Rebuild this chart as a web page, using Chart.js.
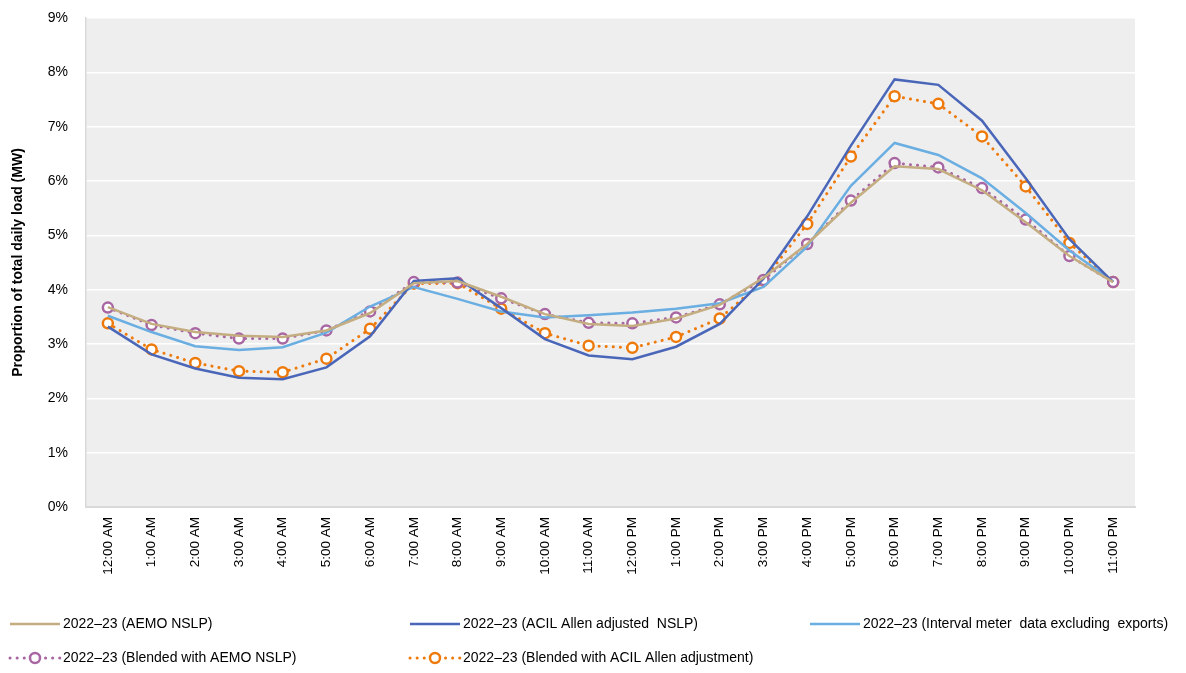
<!DOCTYPE html>
<html>
<head>
<meta charset="utf-8">
<script src="https://cdn.jsdelivr.net/npm/chart.js@4.4.1/dist/chart.umd.min.js"></script>
<style>
  html, body { margin: 0; padding: 0; background: #fff; }
  #wrap { position: relative; width: 1186px; height: 673px; }
</style>
</head>
<body>
<div id="wrap"><canvas id="loadChart" width="1186" height="673"></canvas></div>
<script>
const hours = ['12:00 AM', '1:00 AM', '2:00 AM', '3:00 AM', '4:00 AM', '5:00 AM', '6:00 AM', '7:00 AM',
    '8:00 AM', '9:00 AM', '10:00 AM', '11:00 AM', '12:00 PM', '1:00 PM', '2:00 PM', '3:00 PM',
    '4:00 PM', '5:00 PM', '6:00 PM', '7:00 PM', '8:00 PM', '9:00 PM', '10:00 PM', '11:00 PM'];

// proportion of total daily load, in %
const aemoNslp = [3.68, 3.37, 3.22, 3.15, 3.13, 3.25, 3.57, 4.12, 4.16, 3.87, 3.55, 3.37,
    3.33, 3.47, 3.72, 4.22, 4.84, 5.60, 6.27, 6.22, 5.83, 5.24, 4.62, 4.14];
const acilAdjusted = [3.32, 2.81, 2.55, 2.38, 2.35, 2.57, 3.14, 4.16, 4.21, 3.66, 3.09, 2.79,
    2.72, 2.95, 3.37, 4.20, 5.35, 6.65, 7.87, 7.77, 7.11, 6.05, 4.93, 4.14];
const intervalMeter = [3.52, 3.22, 2.96, 2.89, 2.94, 3.21, 3.69, 4.05, 3.83, 3.60, 3.49, 3.53,
    3.58, 3.65, 3.75, 4.05, 4.79, 5.91, 6.70, 6.48, 6.05, 5.41, 4.72, 4.15];
const blendedAemo = [3.67, 3.35, 3.20, 3.10, 3.10, 3.25, 3.60, 4.14, 4.13, 3.84, 3.55, 3.39,
    3.38, 3.49, 3.73, 4.18, 4.84, 5.64, 6.33, 6.25, 5.87, 5.29, 4.62, 4.14];
const blendedAcil = [3.38, 2.90, 2.65, 2.50, 2.48, 2.73, 3.28, 4.11, 4.12, 3.65, 3.20, 2.97,
    2.93, 3.13, 3.47, 4.17, 5.21, 6.45, 7.56, 7.42, 6.82, 5.90, 4.86, 4.14];

const yTicks = [0, 1, 2, 3, 4, 5, 6, 7, 8, 9];

const FONT = '"Liberation Sans", Arial, sans-serif';

// grey plot background
const plotBackground = {
    id: 'plotBackground',
    beforeDraw(chart) {
        const { ctx, chartArea: a } = chart;
        ctx.save();
        ctx.fillStyle = '#eeeeee';
        ctx.fillRect(a.left, a.top, a.right - a.left, a.bottom - a.top);
        ctx.restore();
    }
};

// legend in a fixed 3-column grid, like the original
const gridLegend = {
    id: 'gridLegend',
    afterDraw(chart) {
        const ctx = chart.ctx;
        ctx.save();
        chart.data.datasets.forEach((ds, i) => {
            const col = i % 3, row = Math.floor(i / 3);
            const x0 = 10 + col * 400;
            const y = 624 + row * 34;
            ctx.strokeStyle = ds.borderColor;
            ctx.lineWidth = ds.borderWidth;
            ctx.lineCap = ds.borderCapStyle || 'butt';
            ctx.setLineDash(ds.borderDash || []);
            ctx.beginPath();
            ctx.moveTo(x0, y);
            ctx.lineTo(x0 + 50, y);
            ctx.stroke();
            if (ds.pointRadius > 0) {
                ctx.setLineDash([]);
                ctx.lineWidth = ds.pointBorderWidth;
                ctx.fillStyle = ds.pointBackgroundColor;
                ctx.beginPath();
                ctx.arc(x0 + 25, y, ds.pointRadius, 0, Math.PI * 2);
                ctx.fill();
                ctx.stroke();
            }
            ctx.fillStyle = '#000';
            ctx.font = '14px ' + FONT;
            ctx.textBaseline = 'middle';
            ctx.fillText(ds.label, x0 + 53, y);
        });
        ctx.restore();
    }
};

function solid(label, data, color) {
    return {
        label, data,
        borderColor: color,
        borderWidth: 2.5,
        pointRadius: 0,
        pointHoverRadius: 0,
        tension: 0
    };
}

function dotted(label, data, color) {
    return {
        label, data,
        borderColor: color,
        borderWidth: 3,
        borderDash: [0.1, 7],
        borderCapStyle: 'round',
        pointRadius: 5,
        pointBorderWidth: 2.5,
        pointBackgroundColor: '#ffffff',
        pointBorderColor: color,
        tension: 0
    };
}

new Chart(document.getElementById('loadChart'), {
    type: 'line',
    data: {
        labels: hours,
        datasets: [
            solid('2022–23 (AEMO NSLP)', aemoNslp, '#c4ad80'),
            solid('2022–23 (ACIL Allen adjusted  NSLP)', acilAdjusted, '#4a66b8'),
            solid('2022–23 (Interval meter  data excluding  exports)', intervalMeter, '#6aaee2'),
            dotted('2022–23 (Blended with AEMO NSLP)', blendedAemo, '#a866a2'),
            dotted('2022–23 (Blended with ACIL Allen adjustment)', blendedAcil, '#ee7a0c')
        ]
    },
    options: {
        responsive: false,
        animation: false,
        layout: { padding: { top: 18, right: 51, bottom: 90, left: 0 } },
        plugins: {
            legend: { display: false },
            tooltip: { enabled: false }
        },
        scales: {
            x: {
                offset: true,
                grid: { display: false },
                border: { color: '#d9d9d9', width: 2 },
                ticks: {
                    minRotation: 90,
                    maxRotation: 90,
                    padding: 2,
                    color: '#000',
                    font: { family: FONT, size: 13.5 }
                },
                afterFit(scale) { scale.height = 76; }
            },
            y: {
                min: 0,
                max: 9,
                afterBuildTicks(scale) { scale.ticks = yTicks.map(v => ({ value: v })); },
                grid: { color: '#ffffff', lineWidth: 1.5, drawTicks: false },
                border: { color: '#d9d9d9', width: 1.5 },
                ticks: {
                    padding: 18,
                    color: '#000',
                    font: { family: FONT, size: 14 },
                    callback: v => v + '%'
                },
                title: {
                    display: true,
                    text: 'Proportion of total daily load (MW)',
                    color: '#000',
                    font: { family: FONT, size: 14, weight: 'bold' },
                    padding: { top: 10, bottom: 0 }
                },
                afterFit(scale) {
                    scale.width = 86;
                    scale.paddingTop = 0;
                    scale.paddingBottom = 0;
                }
            }
        }
    },
    plugins: [plotBackground, gridLegend]
});
</script>
</body>
</html>
